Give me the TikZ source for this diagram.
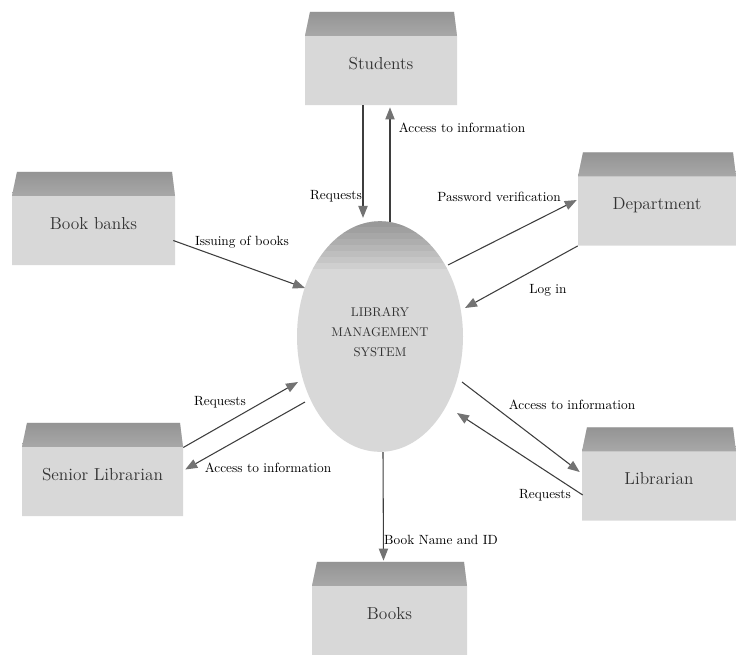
\documentclass[tikz,border=0pt]{standalone}
\usepackage{xcolor}
\usetikzlibrary{arrows.meta, positioning, calc, shapes.geometric}
\definecolor{BoxBody}{RGB}{216,216,216}
\definecolor{BoxTop}{RGB}{168,168,168}
\definecolor{FlowLine}{RGB}{62,62,62}
\definecolor{FlowTip}{RGB}{115,115,115}
\definecolor{InkGray}{RGB}{50,50,50}
\tikzset{
  >=latex,
  % entita' esterne (blocchi con bordo superiore scuro)
  entity/.style={rectangle, inner sep=0pt,
    minimum width=#1*0.75pt, minimum height=70pt,
    text=InkGray, font=\fontsize{13}{15}\selectfont, text height=16pt, text depth=0pt,
    path picture={
      \fill[BoxBody] ($(path picture bounding box.north west)+(5,0)$)
        -- ($(path picture bounding box.north east)+(-3,0)$)
        -- ($(path picture bounding box.north east)+(0,24)$)
        -- (path picture bounding box.south east)
        -- (path picture bounding box.south west)
        -- ($(path picture bounding box.north west)+(0,24)$) -- cycle;
      \shade[top color=BoxTop!88!black, bottom color=BoxTop]
        ($(path picture bounding box.north west)+(5,0)$)
        -- ($(path picture bounding box.north east)+(-3,0)$)
        -- ($(path picture bounding box.north east)+(0,24)$)
        -- ($(path picture bounding box.north west)+(0,24)$) -- cycle;}},
  entity/.default=154,
  % processo centrale
  process/.style={ellipse, fill=BoxBody, minimum width=124.5pt, minimum height=173pt,
    inner sep=0pt,
    path picture={\foreach \k in {1,...,8}
      \fill[black,opacity=0.04] (path picture bounding box.north west) rectangle
      ($(path picture bounding box.north east)+(0,6*\k)$);}},
  lmstext/.style={font=\fontsize{9.5}{15}\selectfont, align=center, text=InkGray},
  % flussi
  flow/.style={FlowLine, line width=0.8pt, -{Triangle[length=9pt,width=7pt,color=FlowTip]}},
  lbl/.style={font=\fontsize{10}{12}\selectfont, text=black, inner sep=1pt}
}
\begin{document}
\begin{tikzpicture}[x=0.75pt,y=-0.75pt]
  \useasboundingbox (0,0) rectangle (736,654);
  % blocchi
  \node[entity=152] (stu) at (381,58.5) {Students};
  \node[entity=163] (bank) at (93.5,218.5) {Book banks};
  \node[entity=158] (dep) at (657,199) {Department};
  \node[entity=161] (sen) at (102.5,469.5) {Senior Librarian};
  \node[entity=154] (lib) at (659,474) {Librarian};
  \node[entity=155] (books) at (389.5,608.5) {Books};
  \node[process, label={[lmstext,yshift=3pt]center:{LIBRARY\\MANAGEMENT\\SYSTEM}}] (lms) at (380,336.5) {};
  % flussi da/verso il sistema
  \draw[flow] ($(stu.south)+(-18,0)$) -- ($(lms.north)+(-17,-3)$);
  \draw[flow] ($(lms.north)+(10,1)$) -- ($(stu.south)+(9,2)$);
  \draw[flow] ($(bank.east)+(-2,22)$) -- ($(lms.center)+(-75,-48.5)$);
  \draw[flow] ($(lms.center)+(68,-71.5)$) -- ($(dep.west)+(-1,1)$);
  \draw[flow] (dep.south west) -- ($(lms.center)+(85,-28.5)$);
  \draw[flow] ($(sen.east)+(0,-22)$) -- ($(lms.center)+(-82,45.5)$);
  \draw[flow] ($(lms.center)+(-75,65.5)$) -- ($(sen.east)+(2,0)$);
  \draw[flow] ($(lms.center)+(82,45.5)$) -- ($(lib.west)+(-2,-2)$);
  \draw[flow] ($(lib.west)+(1,21)$) -- ($(lms.center)+(77,76.5)$);
  \draw[flow] ($(lms.south)+(3,0)$) -- ($(books.north)+(-6,-1)$);
  % etichette
  \node[lbl] (l1) at (336,196) {Requests};
  \node[lbl] (l2) at (462,128) {Access to information};
  \node[lbl] (l3) at (242,242) {Issuing of books};
  \node[lbl] (l4) at (499,197) {Password verification};
  \node[lbl] (l5) at (548,290) {Log in};
  \node[lbl] (l6) at (220,402) {Requests};
  \node[lbl] (l7) at (268,468) {Access to information};
  \node[lbl] (l8) at (572,405) {Access to information};
  \node[lbl] (l9) at (545,495) {Requests};
  \node[lbl] (l10) at (441,540) {Book Name and ID};
\end{tikzpicture}
\end{document}
